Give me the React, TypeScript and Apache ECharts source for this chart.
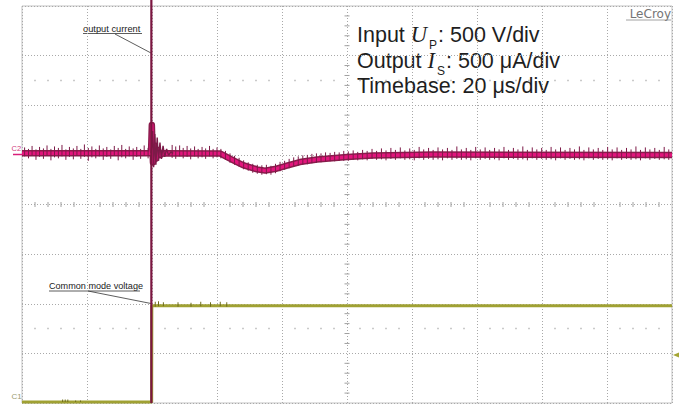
import React, { useEffect, useRef } from "react";
import * as echarts from "echarts";

// Horizontal: time in µs (20 µs/div, 10 divisions). Vertical: screen divisions (8 divisions).
const timeTicks = [0, 20, 40, 60, 80, 100, 120, 140, 160, 180, 200];
const divTicks = [-4, -3, -2, -1, 0, 1, 2, 3, 4];

// C2: output current (band centre)
const c2Band: [number, number][] = [
  [0, 1.035], [39.7, 1.035], [39.95, 1.6], [40.3, 0.85], [40.7, 1.2], [41.2, 0.92],
  [41.8, 1.1], [42.6, 1.0], [43.5, 1.035], [60.9, 1.03],
  [64.9, 0.895], [68.0, 0.794], [72.3, 0.708], [74.8, 0.683], [77.8, 0.714], [81.5, 0.784],
  [85.5, 0.855], [90.8, 0.905], [100, 0.956], [108, 0.986], [126.5, 1.006], [200, 0.998],
];

// C2: ringing right after the transient
const c2Ringing: [number, number][] = [
  [39.7, 1.035], [39.95, 1.2], [40.2, 1.48], [40.5, 0.75], [40.85, 1.42], [41.2, 0.8],
  [41.6, 1.35], [42.0, 0.88], [42.45, 1.25], [42.9, 0.92], [43.4, 1.18], [43.9, 0.96],
  [44.5, 1.12], [45.1, 0.99], [45.8, 1.06], [46.5, 1.03],
];

// C2: transient spike, off-screen at both ends
const c2Spike: [number, number][] = [[39.8, 4.15], [39.8, -4.0]];

// C2: noise spikes [t, high, low]
const c2Noise: [number, number, number][] = [
  [0.8, 1.15, 0.97], [2.0, 1.12, 0.93], [3.1, 1.18, 0.99], [4.3, 1.11, 0.9], [5.4, 1.16, 0.96],
  [6.6, 1.13, 0.92], [7.7, 1.19, 0.98], [8.9, 1.12, 0.89], [10.0, 1.17, 0.95], [11.2, 1.14, 0.93],
  [12.3, 1.2, 0.97], [13.5, 1.11, 0.9], [14.6, 1.16, 0.96], [15.8, 1.13, 0.91], [16.9, 1.18, 0.98],
  [18.1, 1.12, 0.92], [19.2, 1.21, 0.96], [20.4, 1.14, 0.88], [21.5, 1.17, 0.95], [22.7, 1.12, 0.93],
  [23.8, 1.19, 0.97], [25.0, 1.13, 0.9], [26.1, 1.16, 0.96], [27.3, 1.11, 0.92], [28.4, 1.18, 0.98],
  [29.6, 1.14, 0.89], [30.7, 1.2, 0.95], [31.9, 1.12, 0.93], [33.0, 1.17, 0.97], [34.2, 1.13, 0.9],
  [35.3, 1.16, 0.96], [36.5, 1.12, 0.92], [37.6, 1.19, 0.98], [38.8, 1.14, 0.93],
  [46.2, 1.2, 0.94], [47.3, 1.17, 0.92], [48.5, 1.19, 0.97], [49.6, 1.14, 0.93], [50.8, 1.18, 0.96],
  [51.9, 1.13, 0.91], [53.1, 1.17, 0.97], [54.2, 1.12, 0.93], [55.4, 1.16, 0.95], [56.5, 1.13, 0.92],
  [57.7, 1.18, 0.97], [58.8, 1.12, 0.93], [60.0, 1.15, 0.95],
  [61.2, 1.12, 0.93], [62.6, 1.08, 0.9], [64.0, 1.03, 0.84], [65.4, 0.98, 0.8], [66.8, 0.94, 0.76],
  [68.2, 0.89, 0.71], [69.6, 0.85, 0.68], [71.0, 0.82, 0.64], [72.4, 0.8, 0.62], [73.8, 0.79, 0.6],
  [75.2, 0.8, 0.61], [76.6, 0.78, 0.6], [78.0, 0.82, 0.63], [79.4, 0.86, 0.67], [80.8, 0.88, 0.7],
  [82.2, 0.92, 0.73], [83.6, 0.95, 0.76], [85.0, 0.97, 0.78], [86.4, 0.99, 0.8], [87.8, 1.0, 0.81],
  [89.2, 1.02, 0.83], [90.6, 1.03, 0.84], [92.0, 1.03, 0.85], [93.4, 1.05, 0.86], [94.8, 1.04, 0.87],
  [96.2, 1.06, 0.87], [97.6, 1.05, 0.88], [99.0, 1.08, 0.88],
  [100.4, 1.07, 0.88], [101.9, 1.09, 0.9], [103.3, 1.06, 0.89], [104.8, 1.1, 0.91], [106.2, 1.08, 0.89],
  [107.7, 1.12, 0.92], [109.1, 1.08, 0.9], [110.6, 1.13, 0.91], [112.0, 1.09, 0.89], [113.5, 1.14, 0.92],
  [114.9, 1.1, 0.9], [116.4, 1.15, 0.93], [117.8, 1.09, 0.9], [119.3, 1.13, 0.91], [120.7, 1.1, 0.89],
  [122.2, 1.16, 0.93], [123.6, 1.11, 0.9], [125.1, 1.14, 0.92], [126.5, 1.1, 0.9], [128.0, 1.15, 0.91],
  [129.4, 1.11, 0.89], [130.9, 1.14, 0.93], [132.3, 1.1, 0.9], [133.8, 1.17, 0.92], [135.2, 1.11, 0.9],
  [136.7, 1.14, 0.91], [138.1, 1.1, 0.89], [139.6, 1.16, 0.93], [141.0, 1.11, 0.9], [142.5, 1.15, 0.92],
  [143.9, 1.1, 0.9], [145.4, 1.14, 0.91], [146.8, 1.11, 0.89], [148.3, 1.16, 0.93], [149.7, 1.1, 0.9],
  [151.2, 1.14, 0.92], [152.6, 1.11, 0.9], [154.1, 1.17, 0.91], [155.5, 1.1, 0.89], [157.0, 1.15, 0.93],
  [158.4, 1.11, 0.9], [159.9, 1.14, 0.92], [161.3, 1.1, 0.9], [162.8, 1.16, 0.91], [164.2, 1.11, 0.89],
  [165.7, 1.15, 0.93], [167.1, 1.1, 0.9], [168.6, 1.14, 0.92], [170.0, 1.11, 0.9], [171.5, 1.17, 0.91],
  [172.9, 1.1, 0.89], [174.4, 1.15, 0.93], [175.8, 1.11, 0.9], [177.3, 1.14, 0.92], [178.7, 1.1, 0.9],
  [180.2, 1.16, 0.91], [181.6, 1.11, 0.89], [183.1, 1.15, 0.93], [184.5, 1.1, 0.9], [186.0, 1.14, 0.92],
  [187.4, 1.11, 0.9], [188.9, 1.17, 0.91], [190.3, 1.1, 0.89], [191.8, 1.15, 0.93], [193.2, 1.11, 0.9],
  [194.7, 1.14, 0.92], [196.1, 1.1, 0.9], [197.6, 1.16, 0.91], [199.0, 1.11, 0.9],
];

// C1: common mode voltage
const c1Trace: [number, number][] = [[0, -3.98], [39.9, -3.98], [39.95, -2.04], [200, -2.04]];

// C1: small dark blips [t, high, low]
const c1Noise: [number, number, number][] = [
  [12.5, -3.93, -3.98], [13.3, -3.93, -3.98], [14.1, -3.93, -3.98], [16.5, -3.95, -3.98], [18.0, -3.95, -3.98],
  [41, -1.96, -2.06], [42, -1.95, -2.05], [43.5, -1.97, -2.05], [48, -1.97, -2.06], [52, -1.98, -2.06],
  [55, -1.96, -2.05], [58, -1.97, -2.06], [61, -1.96, -2.05], [63, -1.97, -2.06],
];

const SANS = '"Liberation Sans", Arial, Helvetica, sans-serif';
const SERIF = '"Liberation Serif", "Times New Roman", serif';

function txt(text: string, x: number, y: number, size: number, family: string, fill: string, extra: any = {}) {
  const font = `${extra.fontStyle || "normal"} ${extra.fontWeight || "normal"} ${size}px ${family}`;
  return {
    type: "text",
    x,
    y,
    silent: true,
    style: {
      text,
      font,
      fill,
      align: extra.align || "left",
      textAlign: extra.align || "left",
      verticalAlign: "middle",
      textVerticalAlign: "middle",
    },
  };
}

function buildInfoText(): any[] {
  const F = 21.5;
  const SUB = 12;
  const col = "#1e1e1e";
  const x0 = 357;
  const subDrop = 20.6; // padding pushing the subscript below the main line
  const rich = {
    a: { fontSize: F, fontFamily: SANS, fill: col, lineHeight: 24 },
    u: { fontSize: F + 1, fontFamily: SERIF, fontStyle: "italic", fill: col, lineHeight: 24 },
    s: { fontSize: SUB, fontFamily: SANS, fill: col, lineHeight: SUB, padding: [subDrop, 1, 0, 2] },
  };
  const line = (text: string, base: number) => ({
    type: "text",
    x: x0,
    y: base - 0.35 * F,
    silent: true,
    style: {
      text,
      rich,
      fontSize: F,
      fontFamily: SANS,
      fill: col,
      align: "left",
      textAlign: "left",
      verticalAlign: "middle",
      textVerticalAlign: "middle",
    },
  });
  return [
    line("{a|Input }{u|U}{s|P}{a|: 500 V/div}", 42.5),
    line("{a|Output }{u|I}{s|S}{a|: 500 μA/div}", 68.3),
    txt("Timebase: 20 μs/div", x0, 94 - 0.35 * F, F, SANS, col),
  ];
}

export default function App() {
  const ref = useRef<HTMLDivElement>(null);

  useEffect(() => {
    if (!ref.current) return;
    const chart = echarts.init(ref.current, undefined, { renderer: "svg" });

    const gridColor = "#a9a9a9";
    const noiseRender = (stroke: string, width: number) => (params: any, api: any) => {
      const p1 = api.coord([api.value(0), api.value(1)]);
      const p2 = api.coord([api.value(0), api.value(2)]);
      return {
        type: "line",
        shape: { x1: p1[0], y1: p1[1], x2: p2[0], y2: p2[1] },
        style: { stroke, lineWidth: width },
      };
    };

    const scaffoldRender = (params: any, api: any) => {
      const children: any[] = [];
      const step = timeTicks[1] / 5;
      const vStep = (divTicks[1] - divTicks[0]) / 5;
      for (let k = 1; k < (timeTicks.length - 1) * 5; k++) {
        if (k % 5 === 0) continue;
        const t = k * step;
        for (const v of [2.5, -2.5]) {
          const p = api.coord([t, v]);
          children.push({
            type: "rect",
            shape: { x: p[0] - 0.8, y: p[1] - 0.8, width: 1.6, height: 1.6 },
            style: { fill: "#bdbdbd" },
          });
        }
        const c = api.coord([t, 0]);
        children.push({
          type: "line",
          shape: { x1: c[0], y1: c[1] - 2.5, x2: c[0], y2: c[1] + 2.5 },
          style: { stroke: "#a0a0a0", lineWidth: 1 },
        });
      }
      for (let k = 1; k < (divTicks.length - 1) * 5; k++) {
        if (k % 5 === 0) continue;
        const v = divTicks[0] + k * vStep;
        const c = api.coord([100, v]);
        children.push({
          type: "line",
          shape: { x1: c[0] - 2.5, y1: c[1], x2: c[0] + 2.5, y2: c[1] },
          style: { stroke: "#a0a0a0", lineWidth: 1 },
        });
      }
      return { type: "group", children };
    };

    const graphic: any[] = [
      ...buildInfoText(),
      // LeCroy logo text
      txt("LeCroy", 671, 13.5, 12, '"DejaVu Sans", Verdana, sans-serif', "#747474", { align: "right" }),
      { type: "line", silent: true, shape: { x1: 626, y1: 20, x2: 671, y2: 20 }, style: { stroke: "#8a8a8a", lineWidth: 0.8 } },
      // output current annotation
      txt("output current", 83, 28.5, 9.3, SANS, "#222"),
      { type: "line", silent: true, shape: { x1: 83, y1: 33.5, x2: 142, y2: 33.5 }, style: { stroke: "#333", lineWidth: 0.8 } },
      { type: "line", silent: true, shape: { x1: 115, y1: 34, x2: 151, y2: 53 }, style: { stroke: "#333", lineWidth: 0.8 } },
      // common mode voltage annotation
      txt("Common mode voltage", 49, 286, 9.1, SANS, "#222"),
      { type: "line", silent: true, shape: { x1: 49, y1: 291, x2: 140, y2: 291 }, style: { stroke: "#333", lineWidth: 0.8 } },
      { type: "line", silent: true, shape: { x1: 88, y1: 291, x2: 151, y2: 303.5 }, style: { stroke: "#333", lineWidth: 0.8 } },
      // channel markers
      txt("C2", 11.5, 148, 7.5, SANS, "#d03a7c"),
      { type: "line", silent: true, shape: { x1: 13, y1: 154.5, x2: 22, y2: 154.5 }, style: { stroke: "#d81f7a", lineWidth: 1.5 } },
      txt("C1", 11.5, 396.5, 8, SANS, "#9c9c70"),
      { type: "polygon", silent: true, shape: { points: [[673, 355], [679, 352.5], [679, 357.5]] }, style: { fill: "#a5a535" } },
    ];

    const option: any = {
      animation: false,
      backgroundColor: "#ffffff",
      grid: {
        left: 22,
        top: 6,
        width: 650,
        height: 397,
        show: true,
        borderColor: "#c2c2c2",
        borderWidth: 1,
        backgroundColor: "transparent",
      },
      xAxis: {
        type: "value",
        min: timeTicks[0],
        max: timeTicks[timeTicks.length - 1],
        interval: timeTicks[1] - timeTicks[0],
        axisLine: { show: false },
        axisTick: { show: false },
        axisLabel: { show: false },
        splitLine: { show: true, lineStyle: { color: gridColor, type: [1, 2], width: 1 } },
      },
      yAxis: {
        type: "value",
        min: divTicks[0],
        max: divTicks[divTicks.length - 1],
        interval: divTicks[1] - divTicks[0],
        axisLine: { show: false },
        axisTick: { show: false },
        axisLabel: { show: false },
        splitLine: { show: true, lineStyle: { color: gridColor, type: [1, 2], width: 1 } },
      },
      series: [
        { type: "custom", name: "graticule", data: [[0, 0]], encode: { x: 0, y: 1 }, renderItem: scaffoldRender, silent: true, z: 1 },
        {
          type: "line", name: "C1", data: c1Trace, showSymbol: false, symbol: "none", clip: false, silent: true, z: 3,
          lineStyle: { color: "#a0a133", width: 3 },
        },
        { type: "custom", name: "C1 noise", data: c1Noise, encode: { x: 0, y: [1, 2] }, renderItem: noiseRender("#6e6c1c", 1), silent: true, z: 4 },
        {
          type: "line", name: "C2 edge", data: c2Band, showSymbol: false, symbol: "none", clip: false, silent: true, z: 5,
          lineStyle: { color: "#8a1c4c", width: 6.5, join: "round" },
        },
        {
          type: "line", name: "C2", data: c2Band, showSymbol: false, symbol: "none", clip: false, silent: true, z: 6,
          lineStyle: { color: "#e3157d", width: 3.5, join: "round" },
        },
        { type: "custom", name: "C2 noise", data: c2Noise, encode: { x: 0, y: [1, 2] }, renderItem: noiseRender("#7d1a48", 1), silent: true, z: 7 },
        {
          type: "line", name: "C2 ringing", data: c2Ringing, showSymbol: false, symbol: "none", clip: false, silent: true, z: 8,
          lineStyle: { color: "#7d1a48", width: 1.4 },
        },
        {
          type: "line", name: "C2 spike", data: c2Spike, showSymbol: false, symbol: "none", clip: false, silent: true, z: 9,
          lineStyle: { color: "#7b1640", width: 2.2 },
        },
      ],
      graphic,
    };

    chart.setOption(option);
    return () => chart.dispose();
  }, []);

  return (
    <div
      ref={ref}
      style={{ position: "absolute", left: 0, top: 0, width: 682, height: 405, background: "#fff" }}
    />
  );
}
